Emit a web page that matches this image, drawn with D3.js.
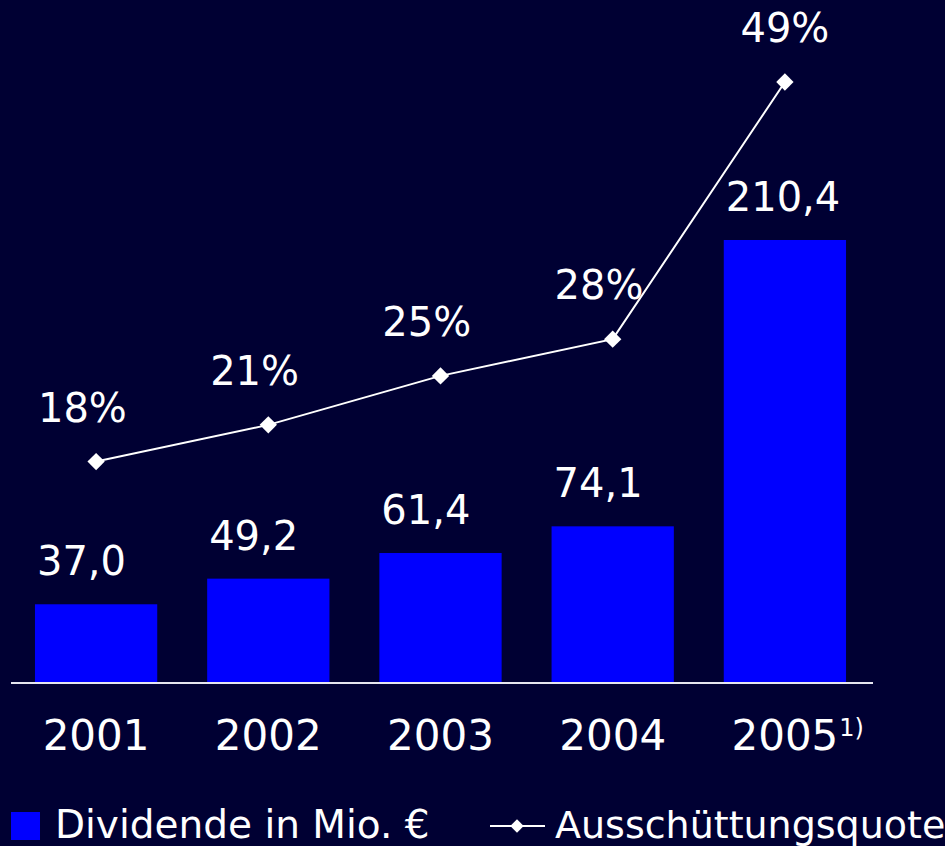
<!DOCTYPE html>
<html>
<head>
<meta charset="utf-8">
<script src="https://cdn.jsdelivr.net/npm/d3@7"></script>
<style>
  body { margin: 0; background: #000033; }
  svg { display: block; }
  text { font-family: "DejaVu Sans", sans-serif; fill: #ffffff; }
</style>
</head>
<body>
<script>
var years = ["2001", "2002", "2003", "2004", "2005"];
var dividends = [37.0, 49.2, 61.4, 74.1, 210.4];
var payoutRatios = [18, 21, 25, 28, 49];
var footnotes = ["", "", "", "", "1)"];

var w = 945;
var h = 846;
var baseY = 682;

var svg = d3.select("body")
			.append("svg")
			.attr("width", w)
			.attr("height", h);

svg.append("rect")
	.attr("width", w)
	.attr("height", h)
	.attr("fill", "#000033");

var x = d3.scaleBand()
	.domain(years)
	.range([10, 871])
	.paddingInner(0.29)
	.paddingOuter(0.145);

var y = d3.scaleLinear()
	.domain([0, 210.4])
	.range([baseY, 240]);

var yPct = d3.scaleLinear()
	.domain([0, 49])
	.range([baseY, 82]);

var fmt = function(v) { return d3.format(".1f")(v).replace(".", ","); };

// bars
svg.selectAll("rect.bar")
	.data(dividends)
	.enter()
	.append("rect")
	.attr("class", "bar")
	.attr("x", function(d, i) { return x(years[i]); })
	.attr("y", function(d) { return y(d); })
	.attr("width", x.bandwidth())
	.attr("height", function(d) { return baseY - y(d); })
	.attr("fill", "#0000ff");

// baseline
svg.append("line")
	.attr("x1", 11)
	.attr("x2", 873)
	.attr("y1", baseY + 1)
	.attr("y2", baseY + 1)
	.attr("stroke", "#e6e6f0")
	.attr("stroke-width", 2);

// bar value labels
svg.selectAll("text.val")
	.data(dividends)
	.enter()
	.append("text")
	.attr("class", "val")
	.text(function(d) { return fmt(d); })
	.attr("x", function(d, i) { return x(years[i]) + 2; })
	.attr("y", function(d) { return y(d) - 29; })
	.attr("font-size", "40px");

// payout line
var line = d3.line()
	.x(function(d, i) { return x(years[i]) + x.bandwidth() / 2; })
	.y(function(d) { return yPct(d); });

svg.append("path")
	.datum(payoutRatios)
	.attr("d", line)
	.attr("fill", "none")
	.attr("stroke", "#ffffff")
	.attr("stroke-width", 2);

var diamond = d3.symbol().type(d3.symbolSquare).size(150);

svg.selectAll("path.pt")
	.data(payoutRatios)
	.enter()
	.append("path")
	.attr("class", "pt")
	.attr("d", diamond)
	.attr("fill", "#ffffff")
	.attr("transform", function(d, i) {
		return "translate(" + (x(years[i]) + x.bandwidth() / 2) + "," + yPct(d) + ") rotate(45)";
	});

// percent labels
svg.selectAll("text.pct")
	.data(payoutRatios)
	.enter()
	.append("text")
	.attr("class", "pct")
	.text(function(d) { return d + "%"; })
	.attr("x", function(d, i) {
		if (i == payoutRatios.length - 1) return x(years[i]) + x.bandwidth() / 2;
		return x(years[i]) + 3;
	})
	.attr("text-anchor", function(d, i) {
		return i == payoutRatios.length - 1 ? "middle" : "start";
	})
	.attr("y", function(d) { return yPct(d) - 40; })
	.attr("font-size", "40px");

// year labels
var yearText = svg.selectAll("text.year")
	.data(years)
	.enter()
	.append("text")
	.attr("class", "year")
	.text(function(d) { return d; })
	.attr("x", function(d) { return x(d) + x.bandwidth() / 2; })
	.attr("y", 750)
	.attr("text-anchor", "middle")
	.attr("font-size", "42px");

yearText.each(function(d, i) {
	if (!footnotes[i]) return;
	var len = this.getComputedTextLength();
	svg.append("text")
		.text(footnotes[i])
		.attr("x", x(d) + x.bandwidth() / 2 + len / 2 + 1)
		.attr("y", 736)
		.attr("font-size", "24px");
});

// legend
svg.append("rect")
	.attr("x", 11)
	.attr("y", 812)
	.attr("width", 29)
	.attr("height", 28)
	.attr("fill", "#0000ff");

svg.append("text")
	.text("Dividende in Mio. €")
	.attr("x", 55)
	.attr("y", 838)
	.attr("font-size", "39px");

svg.append("line")
	.attr("x1", 490)
	.attr("x2", 545)
	.attr("y1", 826)
	.attr("y2", 826)
	.attr("stroke", "#ffffff")
	.attr("stroke-width", 2);

svg.append("path")
	.attr("d", d3.symbol().type(d3.symbolSquare).size(90))
	.attr("fill", "#ffffff")
	.attr("transform", "translate(517,826) rotate(45)");

svg.append("text")
	.text("Ausschüttungsquote")
	.attr("x", 555)
	.attr("y", 838)
	.attr("font-size", "38px");
</script>
</body>
</html>
